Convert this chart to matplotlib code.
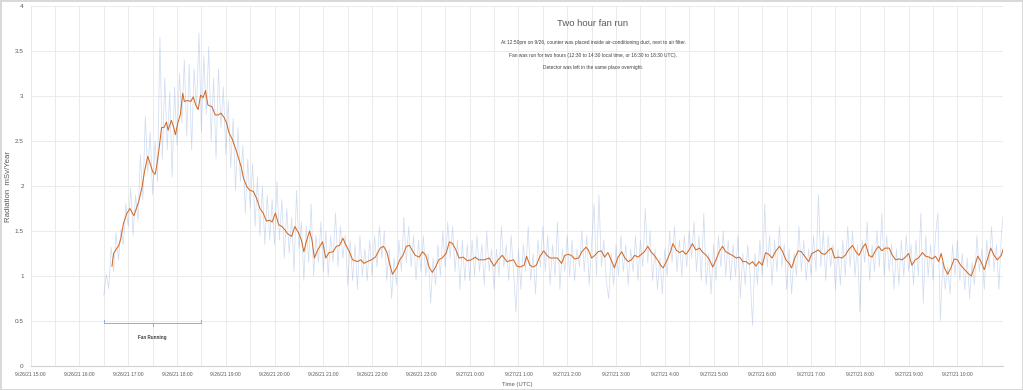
import matplotlib

matplotlib.use("Agg")

import matplotlib.dates as mdates
import matplotlib.pyplot as plt
import pandas as pd
from matplotlib.ticker import FuncFormatter, MultipleLocator

plt.rcParams["font.family"] = ["Liberation Sans", "DejaVu Sans"]

TITLE = "Two hour fan run"
NOTES = [
    "At 12:50pm on 9/26, counter was placed inside air-conditioning duct, next to air filter.",
    "Fan was run for two hours (12:30 to 14:30 local time, or 16:30 to 18:30 UTC).",
    "Detector was left in the same place overnight.",
]

AXIS_START = "2021-09-26 15:00"
AXIS_END = "2021-09-27 10:56"
FAN_START = "2021-09-26 16:30"
FAN_END = "2021-09-26 18:30"

# raw counter readings, one every 3 minutes from 16:30 UTC
RAW_START = "2021-09-26 16:30"
RAW_STEP_MIN = 3
raw_values = [
    0.78, 1.02, 0.86, 1.32, 1.05, 1.48, 1.18, 1.52, 1.35, 1.80,
    1.55, 1.98, 1.45, 1.90, 1.62, 2.35, 1.85, 2.78, 2.15, 2.60, 1.90, 2.50, 2.05, 3.65, 2.30, 3.20, 2.40, 3.05, 2.10, 3.10,
    2.45, 3.25, 2.70, 3.40, 2.55, 3.35, 2.40, 3.30, 2.85, 3.70, 2.60, 3.45, 2.80, 3.55, 2.50, 3.20, 2.30, 3.30, 2.65, 3.10,
    2.35, 2.95, 2.20, 2.75, 1.95, 2.65, 2.05, 2.45, 1.70, 2.30, 1.75, 2.25, 1.55, 2.10, 1.45, 2.00, 1.35, 1.90, 1.40, 1.85,
    1.35, 2.05, 1.40, 1.85, 1.20, 1.75, 1.25, 1.65, 1.05, 1.95, 1.30, 1.60, 0.95, 1.55, 1.15, 1.80, 1.00, 1.45, 1.15, 1.60,
    1.05, 1.50, 1.00, 1.45, 1.15, 1.70, 1.10, 1.55, 1.20, 1.45, 0.90, 1.40, 0.95, 1.35, 0.85, 1.45, 1.00, 1.30, 0.95, 1.40,
    1.00, 1.45, 1.10, 1.55, 1.20, 1.50, 0.95, 1.30, 0.75, 1.20, 0.90, 1.40, 1.05, 1.65, 1.15, 1.55, 1.10, 1.45, 0.95, 1.40,
    1.05, 1.45, 1.00, 1.25, 0.70, 1.20, 0.90, 1.35, 1.00, 1.50, 1.10, 1.60, 1.20, 1.55, 1.05, 1.40, 0.85, 1.40, 0.95, 1.35,
    0.95, 1.40, 1.00, 1.45, 1.05, 1.35, 0.90, 1.50, 1.05, 1.30, 0.85, 1.30, 1.00, 1.55, 1.10, 1.35, 0.95, 1.45, 1.05, 0.60,
    1.30, 0.85, 1.35, 1.05, 1.55, 0.95, 1.25, 0.80, 1.40, 1.10, 1.55, 1.05, 1.45, 0.90, 1.35, 1.00, 1.60, 0.85, 1.30, 1.05,
    1.45, 1.00, 1.40, 0.95, 1.30, 1.10, 1.50, 1.05, 1.45, 0.90, 1.35, 1.80, 1.00, 1.90, 1.10, 1.40, 0.95, 0.75, 1.25, 0.90,
    1.35, 1.00, 1.45, 1.05, 1.35, 0.90, 1.30, 1.05, 1.45, 0.95, 1.40, 1.10, 1.75, 1.15, 1.50, 0.95, 1.30, 0.85, 1.20, 0.80,
    1.30, 1.00, 1.50, 1.15, 1.55, 1.05, 1.40, 1.00, 1.45, 1.10, 1.50, 1.20, 1.60, 1.05, 1.45, 0.95, 1.70, 0.90, 1.25, 0.80,
    1.35, 0.95, 1.45, 1.10, 1.50, 1.00, 1.40, 0.95, 1.35, 1.00, 1.45, 0.75, 1.25, 0.90, 1.35, 1.00, 0.45, 1.25, 0.90, 1.40,
    1.00, 1.80, 1.10, 1.45, 0.90, 1.40, 1.05, 1.55, 1.10, 1.35, 0.85, 1.30, 0.80, 1.25, 1.00, 1.55, 1.05, 1.40, 0.95, 1.30,
    1.00, 1.45, 1.05, 1.90, 1.10, 1.50, 0.95, 1.45, 1.10, 1.35, 0.85, 1.30, 0.90, 1.40, 1.00, 1.55, 1.10, 1.50, 1.00, 1.35,
    0.60, 1.40, 1.15, 1.60, 0.95, 1.35, 1.05, 1.50, 1.10, 1.70, 1.00, 1.45, 1.05, 1.35, 0.85, 1.30, 0.90, 1.40, 1.00, 1.45,
    1.05, 1.35, 0.90, 1.40, 1.00, 1.70, 0.70, 1.45, 1.00, 1.35, 0.95, 1.45, 1.70, 0.50, 1.15, 0.85, 1.10, 0.80, 1.35, 1.00,
    1.40, 0.95, 1.25, 0.85, 1.20, 0.75, 1.15, 0.90, 1.45, 1.05, 1.30, 0.85, 1.40, 1.10, 1.55, 1.05, 1.35, 0.85, 1.45, 1.75,
]

# smoothed trace (moving average), clock time UTC
smooth_time = [
    "16:40", "16:42", "16:46", "16:48", "16:51", "16:54", "16:58", "17:02", "17:05", "17:07",
    "17:10", "17:13", "17:17", "17:20", "17:24", "17:28", "17:30", "17:33", "17:35", "17:38",
    "17:41", "17:44", "17:47", "17:49", "17:53", "17:56", "17:58", "18:01", "18:04", "18:07",
    "18:09", "18:13", "18:17", "18:20", "18:23", "18:26", "18:29", "18:32", "18:35", "18:38",
    "18:43", "18:47", "18:51", "18:54", "18:58", "19:01", "19:04", "19:08", "19:13", "19:16",
    "19:19", "19:22", "19:26", "19:30", "19:34", "19:38", "19:42", "19:46", "19:50", "19:54",
    "19:57", "20:01", "20:05", "20:09", "20:13", "20:16", "20:21", "20:25", "20:30", "20:33",
    "20:36", "20:39", "20:43", "20:46", "20:49", "20:53", "20:59", "21:03", "21:07", "21:12",
    "21:16", "21:20", "21:24", "21:28", "21:32", "21:36", "21:42", "21:46", "21:50", "21:54",
    "21:59", "22:04", "22:10", "22:14", "22:18", "22:22", "22:25", "22:30", "22:34", "22:38",
    "22:42", "22:46", "22:49", "22:53", "22:58", "23:02", "23:06", "23:10", "23:14", "23:18",
    "23:22", "23:26", "23:31", "23:35", "23:39", "23:43", "23:47", "23:52", "23:57", "0:02",
    "0:07", "0:11", "0:18", "0:24", "0:30", "0:35", "0:40", "0:46", "0:50", "0:54",
    "0:58", "1:02", "1:07", "1:10", "1:14", "1:18", "1:22", "1:26", "1:31", "1:35",
    "1:39", "1:44", "1:48", "1:53", "1:57", "2:01", "2:05", "2:09", "2:14", "2:18",
    "2:23", "2:26", "2:30", "2:34", "2:38", "2:42", "2:46", "2:50", "2:55", "2:58",
    "3:02", "3:07", "3:11", "3:15", "3:19", "3:23", "3:27", "3:31", "3:35", "3:39",
    "3:43", "3:47", "3:51", "3:55", "3:58", "4:02", "4:07", "4:10", "4:14", "4:18",
    "4:22", "4:26", "4:30", "4:34", "4:38", "4:43", "4:46", "4:51", "4:55", "4:59",
    "5:03", "5:07", "5:11", "5:15", "5:19", "5:23", "5:28", "5:32", "5:36", "5:40",
    "5:44", "5:48", "5:52", "5:56", "6:00", "6:04", "6:08", "6:12", "6:16", "6:21",
    "6:25", "6:29", "6:33", "6:36", "6:40", "6:44", "6:48", "6:53", "6:57", "7:01",
    "7:05", "7:09", "7:13", "7:17", "7:21", "7:25", "7:29", "7:34", "7:38", "7:42",
    "7:46", "7:51", "7:55", "7:59", "8:03", "8:07", "8:11", "8:15", "8:19", "8:23",
    "8:27", "8:31", "8:36", "8:40", "8:44", "8:48", "8:52", "8:56", "9:00", "9:04",
    "9:08", "9:12", "9:17", "9:21", "9:25", "9:29", "9:33", "9:37", "9:40", "9:44",
    "9:48", "9:52", "9:56", "10:00", "10:04", "10:09", "10:13", "10:17", "10:21", "10:25",
    "10:29", "10:33", "10:37", "10:41", "10:45", "10:49", "10:54", "10:57",
]
smooth_value = [
    1.11, 1.25, 1.31, 1.33, 1.42, 1.58, 1.69, 1.75, 1.70, 1.67,
    1.75, 1.83, 1.99, 2.16, 2.33, 2.22, 2.16, 2.13, 2.22, 2.42,
    2.65, 2.65, 2.71, 2.62, 2.73, 2.65, 2.57, 2.70, 2.79, 3.03,
    2.94, 2.95, 2.94, 2.99, 2.90, 2.85, 3.01, 2.98, 3.06, 2.90,
    2.88, 2.79, 2.79, 2.81, 2.76, 2.70, 2.59, 2.52, 2.39, 2.30,
    2.21, 2.08, 1.99, 1.95, 1.94, 1.86, 1.75, 1.70, 1.61, 1.62,
    1.60, 1.70, 1.57, 1.55, 1.51, 1.47, 1.44, 1.55, 1.47, 1.40,
    1.27, 1.38, 1.50, 1.40, 1.20, 1.29, 1.38, 1.20, 1.26, 1.27,
    1.33, 1.34, 1.42, 1.34, 1.27, 1.18, 1.16, 1.18, 1.14, 1.16,
    1.18, 1.21, 1.31, 1.33, 1.27, 1.12, 1.02, 1.09, 1.18, 1.23,
    1.33, 1.34, 1.29, 1.23, 1.21, 1.27, 1.23, 1.10, 1.04, 1.10,
    1.18, 1.20, 1.25, 1.38, 1.36, 1.29, 1.20, 1.21, 1.17, 1.18,
    1.21, 1.18, 1.18, 1.20, 1.11, 1.18, 1.23, 1.16, 1.17, 1.18,
    1.11, 1.10, 1.12, 1.22, 1.12, 1.10, 1.12, 1.21, 1.28, 1.23,
    1.20, 1.20, 1.20, 1.14, 1.23, 1.24, 1.23, 1.19, 1.20, 1.27,
    1.32, 1.29, 1.20, 1.23, 1.27, 1.28, 1.21, 1.26, 1.16, 1.09,
    1.20, 1.27, 1.20, 1.16, 1.18, 1.23, 1.21, 1.24, 1.27, 1.33,
    1.27, 1.23, 1.18, 1.12, 1.09, 1.16, 1.27, 1.36, 1.29, 1.26,
    1.28, 1.24, 1.29, 1.36, 1.29, 1.31, 1.27, 1.23, 1.18, 1.10,
    1.18, 1.27, 1.33, 1.27, 1.25, 1.23, 1.20, 1.21, 1.16, 1.16,
    1.13, 1.16, 1.11, 1.16, 1.12, 1.26, 1.24, 1.20, 1.27, 1.33,
    1.27, 1.18, 1.14, 1.09, 1.20, 1.28, 1.27, 1.21, 1.16, 1.25,
    1.27, 1.29, 1.25, 1.24, 1.28, 1.31, 1.20, 1.21, 1.20, 1.23,
    1.29, 1.34, 1.27, 1.23, 1.31, 1.36, 1.23, 1.21, 1.28, 1.33,
    1.28, 1.31, 1.31, 1.23, 1.18, 1.19, 1.18, 1.21, 1.25, 1.12,
    1.18, 1.20, 1.26, 1.22, 1.21, 1.19, 1.22, 1.16, 1.25, 1.09,
    1.02, 1.09, 1.19, 1.18, 1.12, 1.07, 1.03, 1.00, 1.10, 1.22,
    1.16, 1.07, 1.19, 1.31, 1.23, 1.18, 1.23, 1.32,
]

RAW_COLOR = "#4472C4"
SMOOTH_COLOR = "#D46A24"
GRID_COLOR = "#E8E8E8"
TEXT_COLOR = "#595959"


def clock_to_timestamp(clock):
    # readings before 15:00 belong to the next morning
    hour = int(clock.split(":")[0])
    day = "2021-09-26" if hour >= 15 else "2021-09-27"
    return pd.Timestamp(f"{day} {clock}")


def format_tick(value, _pos):
    d = mdates.num2date(value)
    return f"{d.month}/{d.day}/{d.year % 100} {d.hour}:{d.minute:02d}"


raw_times = pd.date_range(RAW_START, periods=len(raw_values), freq=f"{RAW_STEP_MIN}min")
smooth_times = [clock_to_timestamp(c) for c in smooth_time]

fig = plt.figure(figsize=(10.23, 3.90), dpi=100, facecolor="white")
fig.patch.set_edgecolor("#D9D9D9")
fig.patch.set_linewidth(1.0)
ax = fig.add_axes([0.030, 0.0615, 0.9504, 0.9231])

ax.plot(raw_times, raw_values, color=RAW_COLOR, alpha=0.24, linewidth=0.55, zorder=2)
ax.plot(smooth_times, smooth_value, color=SMOOTH_COLOR, linewidth=0.75, zorder=3)

ax.set_xlim(pd.Timestamp(AXIS_START), pd.Timestamp(AXIS_END))
ax.set_ylim(0, 4)
ax.yaxis.set_major_locator(MultipleLocator(0.5))
ax.yaxis.set_major_formatter(FuncFormatter(lambda v, p: f"{v:g}"))
ax.xaxis.set_major_locator(mdates.HourLocator(interval=1))
ax.xaxis.set_minor_locator(mdates.MinuteLocator(byminute=[30]))
ax.xaxis.set_major_formatter(FuncFormatter(format_tick))

ax.grid(True, which="both", color=GRID_COLOR, linewidth=0.6, zorder=0)
ax.set_axisbelow(True)
ax.tick_params(axis="both", which="both", length=0, colors=TEXT_COLOR)
ax.tick_params(axis="x", labelsize=3.6, pad=4)
ax.tick_params(axis="y", labelsize=4.6, pad=5)
for side in ("top", "right"):
    ax.spines[side].set_visible(False)
ax.spines["left"].set_color(GRID_COLOR)
ax.spines["left"].set_linewidth(0.6)
ax.spines["bottom"].set_color("#D0D0D0")
ax.spines["bottom"].set_linewidth(0.8)

ax.set_ylabel("Radiation  mSv/Year", fontsize=5.6, color=TEXT_COLOR)
ax.yaxis.set_label_coords(-0.019, 0.5)
ax.set_xlabel("Time (UTC)", fontsize=4.2, color=TEXT_COLOR)
ax.xaxis.set_label_coords(0.5, -0.044)

# bracket under the fan period
fan_start = pd.Timestamp(FAN_START)
fan_end = pd.Timestamp(FAN_END)
fan_mid = fan_start + (fan_end - fan_start) / 2
bracket_y = 0.48
ax.plot([fan_start, fan_start, fan_end, fan_end],
        [bracket_y + 0.03, bracket_y, bracket_y, bracket_y + 0.03],
        color="#8FAADC", linewidth=0.7, zorder=3)
ax.plot([fan_mid, fan_mid], [bracket_y, bracket_y - 0.03],
        color="#8FAADC", linewidth=0.7, zorder=3)
ax.text(fan_mid, bracket_y - 0.16, "Fan Running", ha="center", va="center",
        fontsize=3.3, fontweight="bold", color="#404040")

fig.text(0.579, 0.941, TITLE, ha="center", va="center", fontsize=6.8, color=TEXT_COLOR)
for i, line in enumerate(NOTES):
    fig.text(0.580, 0.890 - i * 0.032, line, ha="center", va="center",
             fontsize=3.5, color="#404040")

fig.savefig("out.png", dpi=100, facecolor="white", edgecolor=fig.get_edgecolor())
plt.close(fig)
